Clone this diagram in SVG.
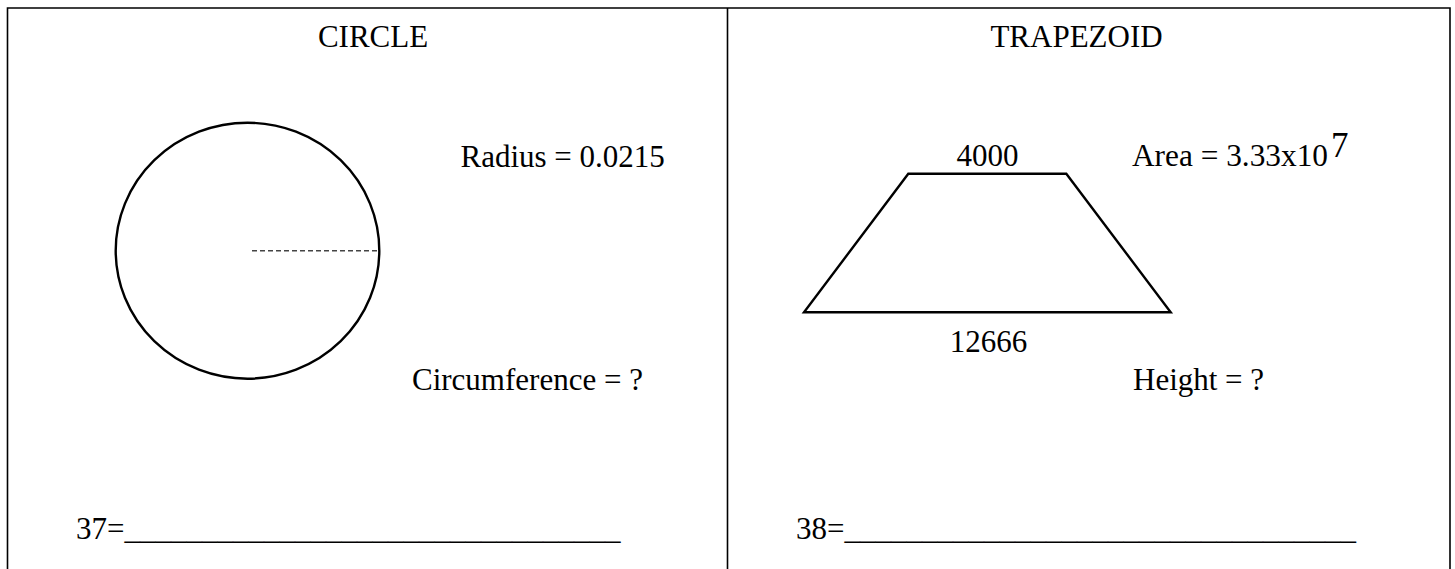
<svg xmlns="http://www.w3.org/2000/svg" width="1455" height="569" viewBox="0 0 1455 569">
<style>
  .t { font-family: "Liberation Serif", "Times New Roman", serif; font-size: 31px; fill: #000; }
  .mid { text-anchor: middle; }
  .frame { stroke: #000; stroke-width: 1.6; fill: none; }
  .shape { stroke: #000; stroke-width: 2.4; fill: none; }
</style>
<rect width="1455" height="569" fill="#fff"/>
<g id="frame">
  <path class="frame" d="M7.5 580 V8 H1450 V580 M727.5 8 V580"/>
</g>
<g id="circle-panel">
  <text class="t mid" x="373" y="47">CIRCLE</text>
  <ellipse class="shape" cx="247.5" cy="250.7" rx="131.8" ry="128"/>
  <line x1="252" y1="250.7" x2="379" y2="250.7" stroke="#444" stroke-width="1.4" stroke-dasharray="5 3"/>
  <text class="t" x="460.5" y="167">Radius = 0.0215</text>
  <text class="t" x="412" y="390">Circumference = ?</text>
  <text class="t" x="76" y="539">37=________________________________</text>
</g>
<g id="trapezoid-panel">
  <text class="t mid" x="1076.5" y="47">TRAPEZOID</text>
  <polygon class="shape" points="908.3,173.7 1066.3,173.7 1170.7,312.3 804,312.3"/>
  <text class="t mid" x="987.5" y="166">4000</text>
  <text class="t mid" x="988.5" y="352">12666</text>
  <text class="t" x="1132" y="166" textLength="196" lengthAdjust="spacingAndGlyphs">Area = 3.33x10</text>
  <text class="t" x="1331" y="157" style="font-size:35px">7</text>
  <text class="t" x="1133" y="390">Height = ?</text>
  <text class="t" x="796" y="539">38=_________________________________</text>
</g>
</svg>
